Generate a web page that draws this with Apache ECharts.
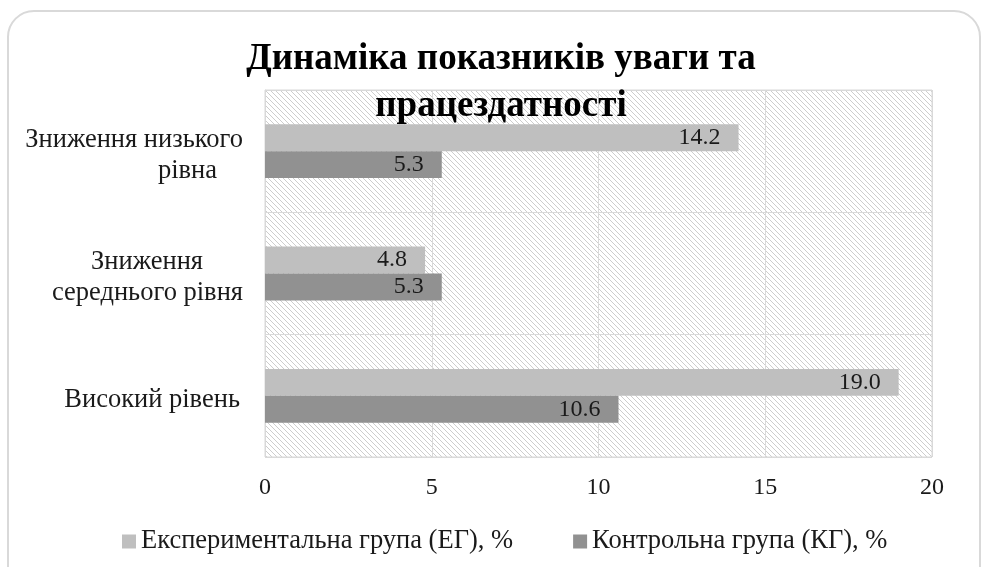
<!DOCTYPE html>
<html>
<head>
<meta charset="utf-8">
<script src="https://cdn.jsdelivr.net/npm/echarts@6/dist/echarts.min.js"></script>
<style>
  html, body { margin: 0; padding: 0; background: #fff; }
  #chart { width: 985px; height: 567px; }
</style>
</head>
<body>
<div id="chart"></div>
<script>
// категорії знизу вгору
var categories = ['Високий рівень', 'Зниження середнього рівня', 'Зниження низького рівна'];
var egValues = [19.0, 4.8, 14.2];
var kgValues = [10.6, 5.3, 5.3];
var xTicks = [0, 5, 10, 15, 20];
var seriesNames = ['Експериментальна група (ЕГ), %', 'Контрольна група (КГ), %'];

// косе штрихування фону як в Excel
function makeHatch() {
  var n = 5;
  var c = document.createElement('canvas');
  c.width = n; c.height = n;
  var ctx = c.getContext('2d');
  ctx.fillStyle = '#ffffff';
  ctx.fillRect(0, 0, n, n);
  ctx.fillStyle = '#cdcdcd';
  for (var i = 0; i < n; i++) ctx.fillRect(i, i, 1, 1);
  return c;
}

var font = 'Liberation Serif';

// підписи осі Y з переносом рядків
var yLabels = {
  'Зниження низького рівна': '{t|Зниження низького}\n{t|рівна}{p26|}',
  'Зниження середнього рівня': '{t|Зниження}{p40|}\n{t|середнього рівня}',
  'Високий рівень': '{t|Високий рівень}{p3|}'
};

var myChart = echarts.init(document.getElementById('chart'));
var option = {
  animation: false,
  title: {
    text: 'Динаміка показників уваги та\nпрацездатності',
    left: 501,
    top: 36,
    padding: 0,
    textAlign: 'center',
    textStyle: { fontFamily: font, fontWeight: 'bold', fontSize: 37, lineHeight: 47, color: '#000' }
  },
  legend: {
    data: seriesNames,
    left: 122,
    top: 528,
    padding: 0,
    itemWidth: 14,
    itemHeight: 14,
    itemGap: 60,
    icon: 'rect',
    textStyle: { fontFamily: font, fontSize: 26.5, color: '#1a1a1a' }
  },
  grid: {
    left: 265,
    right: 53,
    top: 90,
    bottom: 110,
    show: true,
    borderColor: '#d9d9d9',
    borderWidth: 1,
    backgroundColor: { image: makeHatch(), repeat: 'repeat' }
  },
  xAxis: {
    type: 'value',
    min: 0,
    max: 20,
    interval: 5,
    axisLine: { show: false },
    axisTick: { show: false },
    splitLine: { lineStyle: { color: '#d9d9d9', width: 1 } },
    axisLabel: {
      margin: 19,
      fontFamily: font,
      fontSize: 24,
      color: '#1a1a1a',
      formatter: function (v) { return xTicks.indexOf(v) >= 0 ? String(v) : ''; }
    }
  },
  yAxis: {
    type: 'category',
    data: categories,
    axisLine: { lineStyle: { color: '#d9d9d9' } },
    axisTick: { show: false },
    splitLine: { show: true, lineStyle: { color: '#d9d9d9', width: 1 } },
    axisLabel: {
      margin: 22,
      align: 'right',
      padding: [9, 0, 0, 0],
      formatter: function (v) { return yLabels[v]; },
      rich: {
        t: { fontFamily: font, fontSize: 26.5, lineHeight: 31, color: '#1a1a1a' },
        p26: { width: 26 },
        p40: { width: 40 },
        p3: { width: 3 }
      }
    }
  },
  series: [
    {
      name: seriesNames[0],
      type: 'bar',
      data: egValues,
      barGap: '0%',
      barCategoryGap: '56%',
      itemStyle: { color: '#bfbfbf' },
      label: {
        show: true,
        position: 'insideRight',
        distance: 18,
        fontFamily: font,
        fontSize: 24,
        color: '#1a1a1a',
        formatter: function (p) { return p.value.toFixed(1); }
      }
    },
    {
      name: seriesNames[1],
      type: 'bar',
      data: kgValues,
      barGap: '0%',
      barCategoryGap: '56%',
      itemStyle: { color: '#919191' },
      label: {
        show: true,
        position: 'insideRight',
        distance: 18,
        fontFamily: font,
        fontSize: 24,
        color: '#1a1a1a',
        formatter: function (p) { return p.value.toFixed(1); }
      }
    }
  ],
  graphic: [
    {
      type: 'rect',
      silent: true,
      shape: { x: 8, y: 11, width: 972, height: 620, r: 26 },
      style: { fill: null, stroke: '#d9d9d9', lineWidth: 2 }
    }
  ]
};
myChart.setOption(option);
</script>
</body>
</html>
